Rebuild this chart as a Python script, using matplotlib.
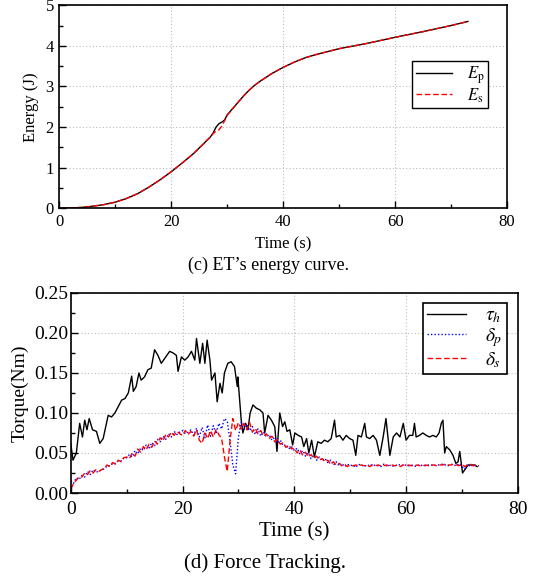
"""Energy curve and force tracking panels (c) and (d)."""

import numpy as np
import matplotlib.pyplot as plt
from matplotlib.ticker import MultipleLocator

# (c) energy curve
energy_time = [0, 2, 4, 6, 8, 10, 12, 14, 16, 18, 20, 22, 24, 26, 27, 27.5, 28,
               28.5, 29, 29.5, 30, 31, 32, 33, 34, 35, 36, 38, 40, 42, 44, 46,
               48, 50, 55, 60, 65, 70, 73]
energy_p = [0, 0.005, 0.02, 0.05, 0.09, 0.15, 0.24, 0.36, 0.52, 0.70, 0.90,
            1.12, 1.35, 1.62, 1.76, 1.86, 2.00, 2.08, 2.12, 2.17, 2.30, 2.46,
            2.62, 2.78, 2.92, 3.04, 3.14, 3.32, 3.47, 3.60, 3.71, 3.79, 3.86,
            3.93, 4.06, 4.21, 4.35, 4.50, 4.60]
energy_s = [0, 0.005, 0.02, 0.05, 0.09, 0.15, 0.24, 0.36, 0.52, 0.70, 0.90,
            1.12, 1.35, 1.62, 1.76, 1.84, 1.90, 1.93, 2.02, 2.15, 2.29, 2.46,
            2.62, 2.78, 2.92, 3.04, 3.14, 3.32, 3.47, 3.60, 3.71, 3.79, 3.86,
            3.93, 4.06, 4.21, 4.35, 4.50, 4.60]

# (d) force tracking: human torque tau_h (irregular samples)
tau_time = [0, 0.4, 1.0, 1.6, 2.1, 2.5, 2.9, 3.3, 3.9, 4.6, 5.2, 5.8, 6.7, 7.3,
            7.9, 8.5, 9.1, 9.7, 10.3, 10.9, 11.2, 11.7, 12.2, 12.6, 13.2, 13.8,
            14.4, 15.0, 15.6, 16.2, 16.8, 17.7, 18.3, 18.9, 19.2, 19.8, 20.4,
            21.0, 21.6, 22.2, 22.5, 23.1, 23.6, 24.0, 24.4, 24.9, 25.2, 25.8,
            26.2, 26.7, 27.1, 27.5, 28.1, 28.7, 29.3, 29.8, 29.9, 30.5, 30.8,
            31.3, 31.7, 32.1, 32.6, 33.2, 33.8, 34.4, 34.7, 35.3, 35.9, 36.5,
            36.9, 37.4, 37.9, 38.3, 38.7, 39.2, 39.7, 40.1, 40.7, 41.3, 41.7,
            42.2, 42.6, 43.1, 43.6, 44.2, 44.8, 45.4, 46.0, 46.6, 47.2, 47.5,
            48.1, 48.7, 49.3, 49.9, 50.5, 51.0, 51.4, 52.0, 52.6, 52.9, 53.5,
            54.1, 54.7, 55.3, 55.9, 56.4, 56.8, 57.1, 57.7, 58.3, 58.9, 59.5,
            60.0, 60.6, 61.2, 61.5, 61.8, 62.4, 63.0, 63.6, 64.2, 64.8, 65.4,
            65.9, 66.3, 66.6, 66.9, 67.2, 67.8, 68.4, 68.9, 69.3, 69.6, 70.1,
            70.5, 71.1, 71.7, 72.3, 72.7]
tau_h = [0.062, 0.041, 0.050, 0.087, 0.070, 0.091, 0.079, 0.093, 0.079, 0.077,
         0.062, 0.068, 0.097, 0.095, 0.100, 0.108, 0.116, 0.118, 0.125, 0.146,
         0.127, 0.133, 0.150, 0.141, 0.145, 0.154, 0.156, 0.179, 0.172, 0.162,
         0.168, 0.177, 0.175, 0.172, 0.152, 0.170, 0.166, 0.170, 0.177, 0.166,
         0.193, 0.162, 0.187, 0.162, 0.191, 0.166, 0.141, 0.150, 0.114, 0.137,
         0.125, 0.150, 0.162, 0.164, 0.158, 0.133, 0.145, 0.091, 0.075, 0.087,
         0.079, 0.100, 0.110, 0.106, 0.104, 0.100, 0.075, 0.097, 0.091, 0.083,
         0.052, 0.100, 0.083, 0.089, 0.077, 0.079, 0.060, 0.075, 0.072, 0.070,
         0.058, 0.068, 0.050, 0.066, 0.045, 0.064, 0.062, 0.066, 0.064, 0.068,
         0.091, 0.070, 0.072, 0.066, 0.072, 0.068, 0.066, 0.047, 0.072, 0.070,
         0.087, 0.070, 0.068, 0.072, 0.066, 0.047, 0.070, 0.093, 0.066, 0.047,
         0.070, 0.075, 0.070, 0.087, 0.066, 0.072, 0.072, 0.087, 0.070, 0.072,
         0.075, 0.072, 0.070, 0.072, 0.070, 0.075, 0.087, 0.091, 0.050, 0.058,
         0.054, 0.047, 0.037, 0.039, 0.052, 0.025, 0.029, 0.035, 0.035, 0.035,
         0.033]

# delta_p / delta_s sampled every 0.5 s from 0 to 73 s (one row = 5 s)
delta_p = [0.015, 0.012, 0.019, 0.017, 0.022, 0.020, 0.027, 0.023, 0.029, 0.026,
           0.027, 0.029, 0.030, 0.034, 0.034, 0.037, 0.037, 0.040, 0.040, 0.044,
           0.044, 0.048, 0.045, 0.053, 0.049, 0.056, 0.053, 0.060, 0.055, 0.063,
           0.059, 0.067, 0.064, 0.071, 0.067, 0.074, 0.070, 0.077, 0.073, 0.076,
           0.078, 0.074, 0.076, 0.079, 0.072, 0.081, 0.070, 0.082, 0.069, 0.085,
           0.071, 0.084, 0.074, 0.087, 0.080, 0.093, 0.090, 0.065, 0.035, 0.024,
           0.070, 0.088, 0.080, 0.086, 0.078, 0.083, 0.073, 0.080, 0.071, 0.076,
           0.070, 0.073, 0.066, 0.070, 0.062, 0.066, 0.059, 0.060, 0.055, 0.058,
           0.053, 0.056, 0.049, 0.053, 0.046, 0.050, 0.043, 0.047, 0.041, 0.045,
           0.040, 0.043, 0.038, 0.041, 0.035, 0.039, 0.034, 0.037, 0.033, 0.036,
           0.034, 0.035, 0.032, 0.036, 0.034, 0.035, 0.033, 0.036, 0.034, 0.035,
           0.034, 0.033, 0.036, 0.034, 0.035, 0.033, 0.035, 0.034, 0.036, 0.034,
           0.035, 0.034, 0.035, 0.033, 0.035, 0.034, 0.035, 0.034, 0.035, 0.035,
           0.034, 0.035, 0.035, 0.036, 0.035, 0.034, 0.036, 0.035, 0.034, 0.037,
           0.033, 0.030, 0.036, 0.033, 0.035, 0.034, 0.034]
delta_s = [0.005, 0.012, 0.016, 0.020, 0.020, 0.025, 0.023, 0.028, 0.025, 0.029,
           0.027, 0.029, 0.031, 0.035, 0.033, 0.038, 0.036, 0.041, 0.039, 0.044,
           0.045, 0.043, 0.050, 0.046, 0.055, 0.051, 0.058, 0.054, 0.061, 0.057,
           0.065, 0.061, 0.069, 0.065, 0.073, 0.070, 0.076, 0.072, 0.077, 0.074,
           0.072, 0.078, 0.073, 0.077, 0.071, 0.079, 0.066, 0.062, 0.075, 0.068,
           0.078, 0.070, 0.079, 0.073, 0.068, 0.045, 0.027, 0.065, 0.093, 0.078,
           0.088, 0.080, 0.087, 0.079, 0.088, 0.076, 0.081, 0.074, 0.078, 0.071,
           0.074, 0.068, 0.071, 0.064, 0.067, 0.061, 0.063, 0.057, 0.060, 0.055,
           0.056, 0.050, 0.054, 0.047, 0.051, 0.045, 0.048, 0.043, 0.046, 0.041,
           0.043, 0.039, 0.041, 0.036, 0.039, 0.035, 0.037, 0.034, 0.036, 0.033,
           0.035, 0.034, 0.035, 0.034, 0.035, 0.034, 0.035, 0.033, 0.035, 0.034,
           0.035, 0.034, 0.034, 0.035, 0.034, 0.035, 0.034, 0.035, 0.033, 0.035,
           0.034, 0.035, 0.034, 0.034, 0.035, 0.034, 0.034, 0.035, 0.034, 0.035,
           0.035, 0.034, 0.035, 0.035, 0.036, 0.035, 0.035, 0.036, 0.035, 0.034,
           0.036, 0.033, 0.035, 0.036, 0.034, 0.035, 0.034]
delta_time = np.arange(len(delta_p)) * 0.5

plt.rcParams["font.family"] = ["Liberation Serif", "DejaVu Serif"]
plt.rcParams["mathtext.fontset"] = "stix"


def style_axes(ax, xminor, yminor, size, xpad, ypad):
    ax.tick_params(which="both", direction="in", top=False, right=False,
                   labelsize=size, width=1.0)
    ax.tick_params(axis="x", pad=xpad)
    ax.tick_params(axis="y", pad=ypad)
    ax.tick_params(which="major", length=5)
    ax.tick_params(which="minor", length=3)
    ax.xaxis.set_minor_locator(MultipleLocator(xminor))
    ax.yaxis.set_minor_locator(MultipleLocator(yminor))
    ax.grid(True, which="major", linestyle=(0, (1, 2)), color="#bbbbbb",
            linewidth=0.8)
    for spine in ax.spines.values():
        spine.set_linewidth(1.2)


fig = plt.figure(figsize=(5.4, 5.8), dpi=100)

ax1 = fig.add_axes([0.110, 0.641, 0.829, 0.350])
ax1.plot(energy_time, energy_p, color="black", linewidth=1.0, label=r"$E_\mathrm{p}$")
ax1.plot(energy_time, energy_s, color="red", linewidth=1.0, linestyle=(0, (4, 2)),
         label=r"$E_\mathrm{s}$")
ax1.set_xlim(0, 80)
ax1.set_ylim(0, 5)
ax1.xaxis.set_major_locator(MultipleLocator(20))
ax1.yaxis.set_major_locator(MultipleLocator(1))
style_axes(ax1, 10, 0.5, 12, 4, 4)
ax1.set_xlabel("Time (s)", fontsize=12, labelpad=5)
ax1.set_ylabel("Energy (J)", fontsize=12, labelpad=5)
leg1 = ax1.legend(loc="upper right", bbox_to_anchor=(0.958, 0.724), fontsize=12,
                  fancybox=False, edgecolor="black", framealpha=1,
                  handlelength=2.2, handletextpad=0.9, borderpad=0.2,
                  labelspacing=0.0, borderaxespad=0)
leg1.get_frame().set_linewidth(1.0)
fig.text(0.497, 0.543, "(c) ET\u2019s energy curve.", ha="center", va="center",
         fontsize=13)

ax2 = fig.add_axes([0.131, 0.150, 0.828, 0.345])
ax2.plot(tau_time, tau_h, color="black", linewidth=1.0, label=r"$\tau_h$")
ax2.plot(delta_time, delta_p, color="blue", linewidth=1.0, linestyle=(0, (1, 1.5)),
         label=r"$\delta_p$")
ax2.plot(delta_time, delta_s, color="red", linewidth=1.0, linestyle=(0, (4, 2)),
         label=r"$\delta_s$")
ax2.set_xlim(0, 80)
ax2.set_ylim(0, 0.25)
ax2.xaxis.set_major_locator(MultipleLocator(20))
ax2.yaxis.set_major_locator(MultipleLocator(0.05))
ax2.yaxis.set_major_formatter(plt.FormatStrFormatter("%.2f"))
style_axes(ax2, 10, 0.025, 14, 6, 2)
ax2.set_xlabel("Time (s)", fontsize=15, labelpad=3)
ax2.set_ylabel("Torque(Nm)", fontsize=14, labelpad=4)
leg2 = ax2.legend(loc="upper right", bbox_to_anchor=(0.975, 0.95), fontsize=14,
                  fancybox=False, edgecolor="black", framealpha=1,
                  handlelength=2.0, handletextpad=1.0, borderpad=0.2,
                  labelspacing=0.05, borderaxespad=0)
leg2.get_frame().set_linewidth(1.2)
fig.text(0.49, 0.029, "(d) Force Tracking.", ha="center", va="center",
         fontsize=15)

fig.savefig("out.png")
